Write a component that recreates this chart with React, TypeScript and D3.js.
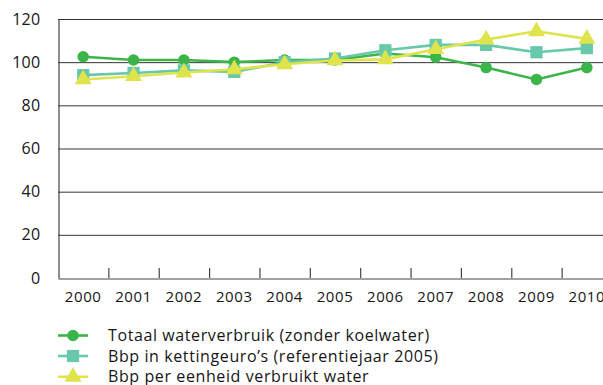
import React, { useEffect, useRef } from 'react';
import * as d3 from 'd3';

const years = ['2000', '2001', '2002', '2003', '2004', '2005', '2006', '2007', '2008', '2009', '2010'];
const waterUse = [102.5, 101, 101, 100, 101, 101, 104, 102.3, 97.5, 92, 97.5];
const gdp = [94, 95, 96.2, 95.5, 100, 101.7, 105.5, 108, 108, 104.6, 106.5];
const gdpPerWater = [92, 93.5, 95.2, 96.7, 99, 100.8, 101.3, 106, 110.5, 114.3, 110.8];
const yTicks = [0, 20, 40, 60, 80, 100, 120];

const seriesNames = [
  'Totaal waterverbruik (zonder koelwater)',
  'Bbp in kettingeuro\u2019s (referentiejaar 2005)',
  'Bbp per eenheid verbruikt water',
];
const colors = ['#3bb54a', '#68c8aa', '#dfe34c'];
const shapes = [d3.symbolCircle, d3.symbolSquare, d3.symbolTriangle];
const symbolSizes = [105, 150, 125];

const FONT = '"Open Sans", "DejaVu Sans", sans-serif';
const TEXT = '#161616';

export default function App() {
  const svgRef = useRef<SVGSVGElement | null>(null);

  useEffect(() => {
    if (!svgRef.current) return;
    const svg = d3.select(svgRef.current);
    svg.selectAll('*').remove();

    const width = 603;
    const margin = { top: 19, left: 58, bottom: 278, right: 612 };

    const x = d3.scaleBand<string>().domain(years).range([margin.left, margin.right]);
    const y = d3.scaleLinear().domain([0, 120]).range([margin.bottom, margin.top]);

    // gridlines
    svg.append('g')
      .selectAll('line')
      .data(yTicks.filter(t => t > 0))
      .enter().append('line')
      .attr('x1', margin.left)
      .attr('x2', width)
      .attr('y1', d => y(d) + 0.5)
      .attr('y2', d => y(d) + 0.5)
      .attr('stroke', '#333')
      .attr('stroke-width', 1);

    // y axis
    const yAxis = svg.append('g')
      .attr('transform', `translate(${margin.left + 0.5},0)`)
      .call(d3.axisLeft(y).tickValues(yTicks).tickSize(0).tickPadding(18));
    yAxis.select('.domain').attr('stroke', '#444').attr('stroke-width', 1.2);
    yAxis.selectAll('text')
      .attr('font-family', FONT)
      .attr('font-size', 16)
      .attr('letter-spacing', 0.3)
      .attr('fill', TEXT);

    // x axis
    const xAxis = svg.append('g')
      .attr('transform', `translate(0,${margin.bottom + 0.5})`)
      .call(d3.axisBottom(x).tickSize(0).tickPadding(13));
    xAxis.select('.domain').attr('stroke', '#444').attr('stroke-width', 1.2);
    xAxis.selectAll('text')
      .attr('font-family', FONT)
      .attr('font-size', 15)
      .attr('letter-spacing', 0.6)
      .attr('fill', TEXT);

    // tick marks between bands, pointing up
    svg.append('g')
      .selectAll('line')
      .data(years.slice(1))
      .enter().append('line')
      .attr('x1', d => (x(d) || 0) + 0.5)
      .attr('x2', d => (x(d) || 0) + 0.5)
      .attr('y1', margin.bottom - 10)
      .attr('y2', margin.bottom)
      .attr('stroke', '#444')
      .attr('stroke-width', 1.2);

    const cx = (d: string) => (x(d) || 0) + x.bandwidth() / 2;
    const allSeries = [waterUse, gdp, gdpPerWater];

    const line = d3.line<number>()
      .x((_, i) => cx(years[i]))
      .y(d => y(d));

    allSeries.forEach((vals, si) => {
      const g = svg.append('g');
      g.append('path')
        .datum(vals)
        .attr('d', line)
        .attr('fill', 'none')
        .attr('stroke', colors[si])
        .attr('stroke-width', 2.6);
      g.selectAll('path.mark')
        .data(vals)
        .enter().append('path')
        .attr('class', 'mark')
        .attr('d', d3.symbol().type(shapes[si]).size(symbolSizes[si]))
        .attr('transform', (d, i) => `translate(${cx(years[i])},${y(d)})`)
        .attr('fill', colors[si]);
    });

    // legend
    const legendY = [335.5, 356, 376.8];
    seriesNames.forEach((name, i) => {
      const g = svg.append('g').attr('transform', `translate(0,${legendY[i]})`);
      g.append('line')
        .attr('x1', 58).attr('x2', 88)
        .attr('y1', 0).attr('y2', 0)
        .attr('stroke', colors[i])
        .attr('stroke-width', 2.6);
      g.append('path')
        .attr('d', d3.symbol().type(shapes[i]).size(symbolSizes[i])())
        .attr('transform', 'translate(73,0)')
        .attr('fill', colors[i]);
      g.append('text')
        .attr('x', 108)
        .attr('y', 0)
        .attr('dy', '0.35em')
        .attr('font-family', FONT)
        .attr('font-size', 16)
        .attr('letter-spacing', 0.6)
        .attr('fill', TEXT)
        .text(name);
    });
  }, []);

  return (
    <svg
      ref={svgRef}
      width={603}
      height={385}
      style={{ position: 'absolute', left: 0, top: 0, background: '#fff' }}
    />
  );
}
